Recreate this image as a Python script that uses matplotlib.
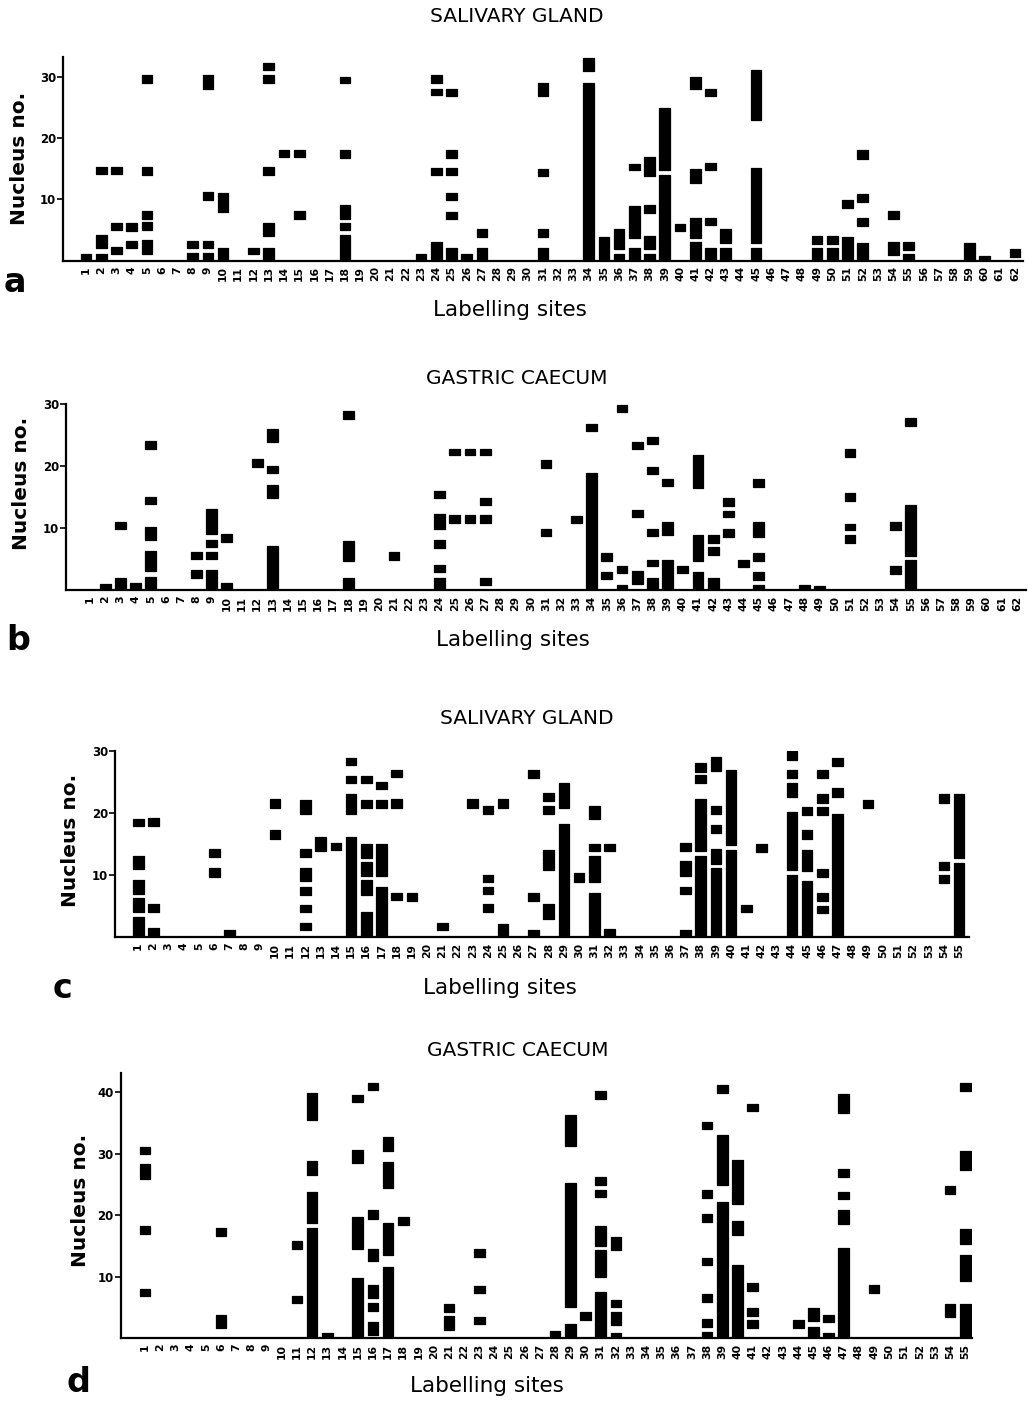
import matplotlib
matplotlib.use("Agg")
import matplotlib.pyplot as plt

# marks per panel: (labelling site, lower nucleus no., upper nucleus no.)
marks_a = [
    (1, 0, 1.1),
    (2, 14.1, 15.2), (2, 2.1, 4.1), (2, 0, 1.1),
    (3, 14.1, 15.2), (3, 5.05, 6.1), (3, 1.0, 2.2),
    (4, 4.8, 6.1), (4, 2.0, 3.2),
    (5, 29.0, 30.2), (5, 13.9, 15.2), (5, 6.8, 8.1), (5, 5.05, 6.25), (5, 1.0, 3.4),
    (8, 2.1, 3.2), (8, 0, 1.25),
    (9, 28.0, 30.3), (9, 9.9, 11.2), (9, 2.1, 3.2), (9, 0, 1.25),
    (10, 7.9, 11.0), (10, 0, 2.1),
    (12, 1.0, 2.1),
    (13, 31.0, 32.2), (13, 29.0, 30.2), (13, 13.9, 15.2), (13, 4.0, 6.1), (13, 0, 2.1),
    (14, 16.9, 18.1),
    (15, 16.9, 18.1), (15, 6.8, 8.1),
    (18, 28.9, 30.0), (18, 16.8, 18.0), (18, 6.8, 9.0), (18, 4.9, 6.1), (18, 0, 4.1),
    (23, 0, 1.1),
    (24, 28.9, 30.2), (24, 27.0, 28.0), (24, 13.9, 15.1), (24, 0, 3.0),
    (25, 26.8, 28.0), (25, 16.8, 18.0), (25, 13.9, 15.1), (25, 9.8, 11.0), (25, 6.7, 7.9), (25, 0, 2.1),
    (26, 0, 1.0),
    (27, 3.9, 5.1), (27, 0, 2.0),
    (31, 26.8, 29.0), (31, 13.8, 15.0), (31, 3.9, 5.1), (31, 0, 2.0),
    (34, 30.9, 33.1), (34, 0, 28.9),
    (35, 0, 3.9),
    (36, 1.8, 5.1), (36, 0, 1.0),
    (37, 14.8, 15.8), (37, 3.75, 8.9), (37, 0, 2.1),
    (38, 13.75, 16.9), (38, 7.8, 9.0), (38, 1.9, 4.0), (38, 0, 1.0),
    (39, 14.8, 24.9), (39, 0, 13.9),
    (40, 4.8, 6.0),
    (41, 27.9, 30.0), (41, 12.7, 14.9), (41, 3.75, 7.0), (41, 0, 3.0),
    (42, 26.8, 27.9), (42, 14.7, 15.9), (42, 5.75, 7.0), (42, 0, 2.0),
    (43, 2.9, 5.1), (43, 0, 2.0),
    (45, 22.9, 31.1), (45, 2.9, 15.1), (45, 0, 2.1),
    (49, 2.7, 4.0), (49, 0, 2.0),
    (50, 2.7, 4.0), (50, 0, 2.0),
    (51, 8.6, 9.8), (51, 0, 3.9),
    (52, 16.6, 18.0), (52, 9.6, 10.9), (52, 5.65, 6.95), (52, 0, 2.9),
    (54, 6.7, 8.1), (54, 0.9, 3.0),
    (55, 1.7, 3.0), (55, 0, 1.1),
    (59, 0, 2.9),
    (60, 0, 0.8),
    (62, 0.6, 1.8),
]

marks_b = [
    (2, 0, 1.0),
    (3, 9.8, 10.9), (3, 0, 2.0),
    (4, 0, 1.2),
    (5, 22.8, 24.0), (5, 13.9, 15.0), (5, 8.1, 10.1), (5, 3.1, 6.3), (5, 0, 2.15),
    (8, 5.0, 6.2), (8, 2.0, 3.3),
    (9, 9.0, 13.1), (9, 6.9, 8.1), (9, 5.0, 6.2), (9, 0, 3.3),
    (10, 7.8, 9.1), (10, 0, 1.2),
    (12, 19.8, 21.1),
    (13, 23.8, 26.0), (13, 18.8, 20.0), (13, 14.9, 16.9), (13, 0, 7.1),
    (18, 27.6, 28.8), (18, 4.7, 7.9), (18, 0, 2.0),
    (21, 4.8, 6.1),
    (24, 14.8, 16.0), (24, 9.9, 12.3), (24, 6.8, 8.1), (24, 2.85, 4.0), (24, 0, 2.0),
    (25, 21.7, 22.8), (25, 10.75, 12.1),
    (26, 21.7, 22.8), (26, 10.75, 12.1),
    (27, 21.7, 22.8), (27, 13.7, 14.9), (27, 10.75, 12.1), (27, 0.8, 2.0),
    (31, 19.7, 21.0), (31, 8.75, 9.9),
    (33, 10.75, 12.0),
    (34, 25.6, 26.8), (34, 0, 18.8),
    (35, 4.7, 5.9), (35, 1.7, 2.95),
    (36, 28.7, 29.8), (36, 2.7, 3.9), (36, 0, 0.8),
    (37, 22.7, 23.9), (37, 11.7, 12.9), (37, 0.9, 3.1),
    (38, 23.5, 24.7), (38, 18.7, 19.9), (38, 8.75, 9.9), (38, 3.8, 4.9), (38, 0, 2.0),
    (39, 16.7, 17.9), (39, 8.9, 10.9), (39, 0, 4.9),
    (40, 2.7, 3.9),
    (41, 16.5, 21.8), (41, 4.7, 8.9), (41, 0, 2.95),
    (42, 7.6, 8.9), (42, 5.6, 7.0), (42, 0, 1.9),
    (43, 13.5, 14.8), (43, 11.7, 12.8), (43, 8.6, 9.8),
    (44, 3.65, 4.8),
    (45, 16.6, 17.9), (45, 8.6, 10.9), (45, 4.6, 5.9), (45, 1.6, 2.85), (45, 0, 0.8),
    (48, 0, 0.8),
    (49, 0, 0.7),
    (51, 21.4, 22.7), (51, 14.4, 15.7), (51, 9.6, 10.6), (51, 7.5, 8.8),
    (54, 9.6, 10.9), (54, 2.5, 3.8),
    (55, 26.5, 27.7), (55, 5.5, 13.7), (55, 0, 4.8),
]

marks_c = [
    (1, 18.0, 19.1), (1, 11.0, 13.1), (1, 7.0, 9.2), (1, 4.1, 6.3), (1, 0, 3.3),
    (2, 18.0, 19.2), (2, 4.1, 5.3), (2, 0, 1.45),
    (6, 12.9, 14.2), (6, 9.75, 11.1),
    (7, 0, 1.2),
    (10, 20.9, 22.2), (10, 15.9, 17.3),
    (12, 19.9, 22.1), (12, 13.0, 14.2), (12, 9.0, 11.1), (12, 6.8, 8.15), (12, 4.0, 5.2), (12, 1.1, 2.25),
    (13, 13.9, 16.2),
    (14, 14.0, 15.2),
    (15, 27.7, 28.8), (15, 24.8, 26.0), (15, 19.8, 23.1), (15, 0, 16.1),
    (16, 24.8, 26.0), (16, 20.75, 22.1), (16, 12.8, 15.1), (16, 9.9, 12.2), (16, 6.8, 9.2), (16, 0, 4.1),
    (17, 23.9, 25.0), (17, 20.9, 22.1), (17, 9.9, 15.1), (17, 0, 8.15),
    (18, 25.8, 27.0), (18, 20.9, 22.2), (18, 6.0, 7.2),
    (19, 5.85, 7.1),
    (21, 1.1, 2.35),
    (23, 20.9, 22.2),
    (24, 19.9, 21.1), (24, 8.85, 10.1), (24, 6.9, 8.15), (24, 4.0, 5.3),
    (25, 20.9, 22.2), (25, 0, 2.15),
    (27, 25.7, 27.0), (27, 5.9, 7.1), (27, 0, 1.2),
    (28, 21.9, 23.2), (28, 19.9, 21.2), (28, 12.3, 14.0), (28, 10.8, 12.2), (28, 2.9, 5.3),
    (29, 20.9, 24.9), (29, 0, 18.2),
    (30, 8.95, 10.3),
    (31, 19.0, 21.1), (31, 13.9, 15.1), (31, 8.85, 13.1), (31, 0, 7.2),
    (32, 13.9, 15.1), (32, 0, 1.3),
    (37, 13.9, 15.2), (37, 9.9, 12.3), (37, 6.9, 8.15), (37, 0, 1.2),
    (38, 26.6, 28.0), (38, 24.8, 26.1), (38, 13.9, 22.2), (38, 0, 13.1),
    (39, 26.8, 29.0), (39, 19.8, 21.2), (39, 16.8, 18.1), (39, 11.8, 14.2), (39, 0, 11.1),
    (40, 14.9, 26.9), (40, 0, 14.0),
    (41, 4.0, 5.2),
    (42, 13.8, 15.1),
    (44, 28.5, 30.0), (44, 25.6, 26.9), (44, 22.6, 24.9), (44, 10.9, 20.1), (44, 0, 10.0),
    (45, 19.7, 21.0), (45, 15.8, 17.2), (45, 10.7, 14.0), (45, 0, 9.1),
    (46, 25.6, 26.9), (46, 21.7, 23.0), (46, 19.7, 21.0), (46, 9.65, 11.0), (46, 5.85, 7.1), (46, 3.9, 5.1),
    (47, 27.6, 28.8), (47, 22.6, 24.0), (47, 0, 19.9),
    (49, 20.9, 22.1),
    (54, 21.7, 23.0), (54, 10.8, 12.1), (54, 8.7, 10.0),
    (55, 12.8, 23.1), (55, 0, 12.0),
]

marks_d = [
    (1, 30.0, 31.1), (1, 25.9, 28.3), (1, 17.0, 18.2), (1, 6.9, 8.1),
    (6, 16.7, 17.9), (6, 1.7, 3.8),
    (11, 14.6, 15.9), (11, 5.7, 6.9),
    (12, 35.5, 39.9), (12, 26.6, 28.8), (12, 18.7, 23.8), (12, 0, 17.9),
    (13, 0, 0.8),
    (15, 38.5, 39.6), (15, 28.5, 30.6), (15, 14.5, 19.7), (15, 0, 9.75),
    (16, 40.4, 41.6), (16, 19.4, 20.8), (16, 12.5, 14.6), (16, 6.5, 8.6), (16, 4.5, 5.7), (16, 0.5, 2.7),
    (17, 30.5, 32.7), (17, 24.5, 28.7), (17, 13.6, 18.8), (17, 0, 11.65),
    (18, 18.5, 19.8),
    (21, 4.3, 5.6), (21, 1.35, 3.7),
    (23, 13.3, 14.5), (23, 7.3, 8.5), (23, 2.3, 3.5),
    (28, 0.1, 1.25),
    (29, 31.2, 36.3), (29, 5.1, 25.3), (29, 0, 2.3),
    (30, 3.0, 4.2),
    (31, 39.0, 40.2), (31, 25.0, 26.3), (31, 23.0, 24.1), (31, 15.0, 18.3), (31, 10.0, 14.4), (31, 0, 7.6),
    (32, 14.4, 16.4), (32, 5.1, 6.3), (32, 2.2, 4.3), (32, 0, 0.8),
    (38, 34.0, 35.2), (38, 22.8, 24.1), (38, 18.9, 20.2), (38, 11.9, 13.1), (38, 5.85, 7.2), (38, 1.8, 3.1), (38, 0, 1.1),
    (39, 39.9, 41.2), (39, 24.9, 33.0), (39, 0, 22.1),
    (40, 21.8, 29.0), (40, 16.8, 19.1), (40, 0, 11.9),
    (41, 36.9, 38.1), (41, 7.75, 9.05), (41, 3.7, 5.0), (41, 1.7, 3.0),
    (44, 1.6, 2.9),
    (45, 2.8, 4.9), (45, 0, 1.8),
    (46, 2.6, 3.8), (46, 0, 0.8),
    (47, 36.6, 39.8), (47, 26.3, 27.5), (47, 22.6, 23.8), (47, 18.6, 20.9), (47, 0, 14.7),
    (49, 7.3, 8.7),
    (54, 23.4, 24.7), (54, 3.4, 5.5),
    (55, 40.2, 41.6), (55, 27.4, 30.5), (55, 15.4, 17.7), (55, 9.3, 13.6), (55, 0, 5.5),
]

W, H = 1028, 1401
fig = plt.figure(figsize=(W / 100, H / 100), dpi=100)


def px_axes(left, top, right, bottom):
    return fig.add_axes([left / W, 1 - bottom / H, (right - left) / W, (bottom - top) / H])


def draw_panel(ax, marks, nsites, xlim, ymax, yticks):
    for s, lo, hi in marks:
        ax.bar(s, hi - lo, bottom=lo, width=0.7, color="black", edgecolor="black",
               linewidth=0.9, joinstyle="round")
    ax.set_xlim(*xlim)
    ax.set_ylim(0, ymax)
    ax.set_xticks(range(1, nsites + 1))
    ax.set_xticklabels([str(i) for i in range(1, nsites + 1)], rotation=90,
                       fontsize=7.8, fontweight="bold")
    ax.tick_params(axis="x", length=0, pad=4)
    ax.set_yticks(yticks)
    ax.set_yticklabels([str(t) for t in yticks], fontsize=8.5, fontweight="bold")
    ax.tick_params(axis="y", length=4, width=1.2, pad=1)
    for sp in ["top", "right"]:
        ax.spines[sp].set_visible(False)
    ax.spines["left"].set_linewidth(1.6)
    ax.spines["bottom"].set_linewidth(1.6)


def label(x, y, s, **kw):
    fig.text(x / W, 1 - y / H, s, ha="center", va="center", **kw)


ax_a = px_axes(63, 57, 1023, 260.5)
draw_panel(ax_a, marks_a, 62, (-0.51, 62.52), 33.2, [10, 20, 30])
ax_b = px_axes(66, 404, 1026, 590)
draw_panel(ax_b, marks_b, 62, (-0.58, 62.58), 30, [10, 20, 30])
ax_c = px_axes(115, 751, 969, 937.3)
draw_panel(ax_c, marks_c, 55, (-0.53, 55.65), 30, [10, 20, 30])
ax_d = px_axes(120.7, 1072.7, 971.7, 1338.3)
draw_panel(ax_d, marks_d, 55, (-0.6, 55.42), 43.2, [10, 20, 30, 40])

titles = ["SALIVARY GLAND", "GASTRIC CAECUM", "SALIVARY GLAND", "GASTRIC CAECUM"]
title_pos = [(517, 16), (517, 378), (527, 718), (518, 1050)]
xlab_pos = [(510, 310), (513, 640), (500, 988), (487, 1386)]
ylab_pos = [(20, 158), (22, 483), (70, 840), (80, 1200)]
letters = ["a", "b", "c", "d"]
letter_pos = [(15, 282), (18, 640), (62, 988), (78, 1383)]

for i in range(4):
    label(*title_pos[i], titles[i], fontsize=14.5)
    label(*xlab_pos[i], "Labelling sites", fontsize=15.5)
    label(*ylab_pos[i], "Nucleus no.", fontsize=14.5, fontweight="bold", rotation=90)
    label(*letter_pos[i], letters[i], fontsize=24, fontweight="bold")

fig.savefig("out.png", dpi=100)
